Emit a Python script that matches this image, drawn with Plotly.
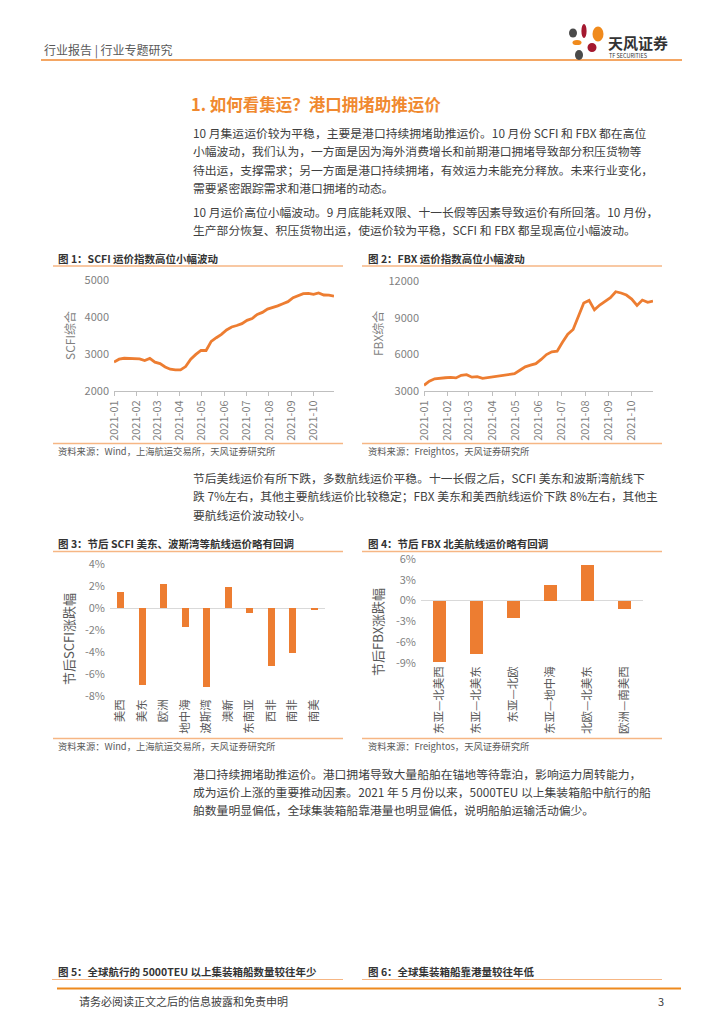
import plotly.graph_objects as go

W, H = 724, 1024
OFF = 8  # page body margin offset of the rendered figure
FONT = "Noto Sans CJK SC, Noto Sans, sans-serif"
ORANGE = "#ED7D31"
TITLE_ORANGE = "#F0892F"
LINE_LIGHT = "#F6B684"

# ---------------- data ----------------
weeks = ["2021-01-01", "2021-01-08", "2021-01-15", "2021-01-22", "2021-01-29",
         "2021-02-05", "2021-02-12", "2021-02-19", "2021-02-26",
         "2021-03-05", "2021-03-12", "2021-03-19", "2021-03-26",
         "2021-04-02", "2021-04-09", "2021-04-16", "2021-04-23", "2021-04-30",
         "2021-05-07", "2021-05-14", "2021-05-21", "2021-05-28",
         "2021-06-04", "2021-06-11", "2021-06-18", "2021-06-25",
         "2021-07-02", "2021-07-09", "2021-07-16", "2021-07-23", "2021-07-30",
         "2021-08-06", "2021-08-13", "2021-08-20", "2021-08-27",
         "2021-09-03", "2021-09-10", "2021-09-17", "2021-09-24",
         "2021-10-01", "2021-10-08", "2021-10-15", "2021-10-22", "2021-10-29"]

scfi = [2783, 2860, 2885, 2880, 2865, 2870, 2825, 2880, 2780, 2740, 2650, 2590,
        2570, 2570, 2660, 2860, 2990, 3100, 3095, 3340, 3440, 3530, 3650, 3730,
        3770, 3820, 3910, 3960, 4070, 4125, 4215, 4250, 4300, 4360, 4415, 4520,
        4575, 4630, 4640, 4610, 4650, 4595, 4590, 4565]

fbx = [3466, 3800, 4000, 4060, 4085, 4110, 4070, 4280, 4340, 4130, 4175, 4040,
       4100, 4170, 4220, 4270, 4390, 4420, 4700, 4980, 5110, 5240, 5580, 5980,
       6210, 6260, 6980, 7650, 8030, 9100, 10200, 10410, 9640, 10030, 10360,
       10630, 11120, 11020, 10850, 10520, 10000, 10440, 10250, 10350]

month_ticks = ["2021-01-01", "2021-02-01", "2021-03-01", "2021-04-01", "2021-05-01",
               "2021-06-01", "2021-07-01", "2021-08-01", "2021-09-01", "2021-10-01"]
month_labels = ["2021-01", "2021-02", "2021-03", "2021-04", "2021-05",
                "2021-06", "2021-07", "2021-08", "2021-09", "2021-10"]

scfi_yticks = [2000, 3000, 4000, 5000]
fbx_yticks = [3000, 6000, 9000, 12000]

scfi_routes = ["美西", "美东", "欧洲", "地中海", "波斯湾", "澳新", "东南亚", "西非", "南非", "南美"]
scfi_change = [1.5, -7.0, 2.2, -1.7, -7.2, 1.95, -0.45, -5.3, -4.05, -0.2]
scfi_ticks = [-8, -6, -4, -2, 0, 2, 4]
scfi_ticktext = ["-8%", "-6%", "-4%", "-2%", "0%", "2%", "4%"]

fbx_routes = ["东亚—北美西", "东亚—北美东", "东亚—北欧", "东亚—地中海", "北欧—北美东", "欧洲—南美西"]
fbx_change = [-8.9, -7.75, -2.55, 2.25, 5.2, -1.15]
fbx_ticks = [-9, -6, -3, 0, 3, 6]
fbx_ticktext = ["-9%", "-6%", "-3%", "0%", "3%", "6%"]

# ---------------- helpers ----------------
def px(x):
    return (x - OFF) / W

def py(y):
    return 1 - (y - OFF) / H

annotations = []
shapes = []

def text(x, y, s, size=12, color="#404040", anchor="left", angle=0, bold=False):
    if bold:
        s = "<b>" + s + "</b>"
    annotations.append(dict(x=px(x), y=py(y), xref="paper", yref="paper", text=s,
                            showarrow=False, xanchor=anchor, yanchor="middle",
                            textangle=angle,
                            font=dict(family=FONT, size=size, color=color)))

def hline(x0, x1, y, color, width=1):
    shapes.append(dict(type="line", xref="paper", yref="paper", x0=px(x0), x1=px(x1),
                       y0=py(y), y1=py(y), line=dict(color=color, width=width)))

def ellipse(cx, cy, rx, ry, color):
    shapes.append(dict(type="circle", xref="paper", yref="paper",
                       x0=px(cx - rx), x1=px(cx + rx), y0=py(cy + ry), y1=py(cy - ry),
                       fillcolor=color, line=dict(width=0)))

fig = go.Figure()

# ---------------- charts ----------------
fig.add_trace(go.Scatter(x=weeks, y=scfi, mode="lines", line=dict(color=ORANGE, width=2.8),
                         xaxis="x", yaxis="y", showlegend=False))
fig.add_trace(go.Scatter(x=weeks, y=fbx, mode="lines", line=dict(color=ORANGE, width=2.8),
                         xaxis="x2", yaxis="y2", showlegend=False))
fig.add_trace(go.Bar(x=scfi_routes, y=scfi_change, marker=dict(color=ORANGE, line=dict(width=0)),
                     width=0.33, xaxis="x3", yaxis="y3", showlegend=False))
fig.add_trace(go.Bar(x=fbx_routes, y=fbx_change, marker=dict(color=ORANGE, line=dict(width=0)),
                     width=0.33, xaxis="x4", yaxis="y4", showlegend=False))

tickfont = dict(family=FONT, size=11, color="#7F7F7F")
catfont = dict(family=FONT, size=11.5, color="#595959")

date_x = dict(type="date", tickvals=month_ticks, ticktext=month_labels, tickangle=-90,
              showline=True, linecolor="#BFBFBF", linewidth=1, ticks="outside", ticklen=4,
              tickcolor="#BFBFBF", showgrid=False, zeroline=False, tickfont=tickfont,
              fixedrange=True, automargin=False)

layout = dict(
    template="none",
    width=W, height=H, margin=dict(l=0, r=0, t=0, b=0, pad=0, autoexpand=False),
    paper_bgcolor="white", plot_bgcolor="white",
    bargap=0,
    xaxis=dict(date_x, domain=[px(114), px(334)], range=["2021-01-01", "2021-10-29"], anchor="y"),
    yaxis=dict(domain=[py(391), py(280)], range=[2000, 5000], tickvals=scfi_yticks,
               ticktext=[str(v) for v in scfi_yticks], showgrid=False,
               zeroline=False, showline=False, ticks="", tickfont=tickfont, anchor="x",
               ticklabelstandoff=4, automargin=False),
    xaxis2=dict(date_x, domain=[px(424), px(653)], range=["2021-01-01", "2021-10-29"], anchor="y2"),
    yaxis2=dict(domain=[py(391), py(281)], range=[3000, 12000], tickvals=fbx_yticks,
                ticktext=[str(v) for v in fbx_yticks], showgrid=False,
                zeroline=False, showline=False, ticks="", tickfont=tickfont, anchor="x2",
                ticklabelstandoff=4, automargin=False),
    xaxis3=dict(domain=[px(110), px(325)], type="category", tickangle=-90, showline=False,
                ticks="", showgrid=False, zeroline=False, tickfont=catfont, anchor="y3",
                automargin=False),
    yaxis3=dict(domain=[py(696), py(564)], range=[-8, 4], tickvals=scfi_ticks,
                ticktext=scfi_ticktext, showgrid=False, zeroline=True,
                zerolinecolor="#D9D9D9", zerolinewidth=1, showline=False, ticks="",
                tickfont=tickfont, anchor="x3", ticklabelstandoff=4, automargin=False),
    xaxis4=dict(domain=[px(421), px(643)], type="category", tickangle=-90, showline=False,
                ticks="", showgrid=False, zeroline=False, tickfont=catfont, anchor="y4",
                automargin=False),
    yaxis4=dict(domain=[py(663), py(559)], range=[-9, 6], tickvals=fbx_ticks,
                ticktext=fbx_ticktext, showgrid=False, zeroline=True,
                zerolinecolor="#D9D9D9", zerolinewidth=1, showline=False, ticks="",
                tickfont=tickfont, anchor="x4", ticklabelstandoff=4, automargin=False),
)

# y-axis titles
text(69, 336, "SCFI综合", size=12, color="#7F7F7F", anchor="center", angle=-90)
text(377, 334, "FBX综合", size=12, color="#7F7F7F", anchor="center", angle=-90)
text(68, 639, "节后SCFI涨跌幅", size=13, color="#595959", anchor="center", angle=-90)
text(377, 632, "节后FBX涨跌幅", size=13, color="#595959", anchor="center", angle=-90)

# ---------------- header ----------------
text(42, 50, "行业报告 | 行业专题研究", size=12, color="#595959")
hline(41, 682, 60, TITLE_ORANGE, 1.6)
ellipse(573, 33, 4, 4.5, "#4A4A4A")
ellipse(584, 31, 2.6, 7, "#A4182F")
ellipse(598, 34, 5.5, 7.5, "#F08A1C")
ellipse(577, 42.5, 4.5, 2.6, "#F08A1C")
ellipse(592, 47.5, 4.5, 4.5, "#A4182F")
ellipse(579, 55, 4, 5, "#4A4A4A")
text(606, 42, "天风证券", size=15, color="#333333", bold=True)
text(607, 55.5, "TF SECURITIES", size=5.5, color="#333333")

# ---------------- title & body ----------------
text(189, 104, "1. 如何看集运？港口拥堵助推运价", size=16.5, color=TITLE_ORANGE, bold=True)

body = [
    (132, "10 月集运运价较为平稳，主要是港口持续拥堵助推运价。10 月份 SCFI 和 FBX 都在高位"),
    (150.5, "小幅波动，我们认为，一方面是因为海外消费增长和前期港口拥堵导致部分积压货物等"),
    (169, "待出运，支撑需求；另一方面是港口持续拥堵，有效运力未能充分释放。未来行业变化，"),
    (187.5, "需要紧密跟踪需求和港口拥堵的动态。"),
    (211, "10 月运价高位小幅波动。9 月底能耗双限、十一长假等因素导致运价有所回落。10 月份，"),
    (229.5, "生产部分恢复、积压货物出运，使运价较为平稳，SCFI 和 FBX 都呈现高位小幅波动。"),
    (477, "节后美线运价有所下跌，多数航线运价平稳。十一长假之后，SCFI 美东和波斯湾航线下"),
    (495.5, "跌 7%左右，其他主要航线运价比较稳定；FBX 美东和美西航线运价下跌 8%左右，其他主"),
    (514, "要航线运价波动较小。"),
    (773, "港口持续拥堵助推运价。港口拥堵导致大量船舶在锚地等待靠泊，影响运力周转能力，"),
    (791, "成为运价上涨的重要推动因素。2021 年 5 月份以来，5000TEU 以上集装箱船中航行的船"),
    (809, "舶数量明显偏低，全球集装箱船靠港量也明显偏低，说明船舶运输活动偏少。"),
]
for y, s in body:
    text(191, y, s, size=11.8, color="#404040")

# ---------------- captions / sources ----------------
cap_color = "#333333"
src_color = "#595959"
text(56, 258, "图 1：SCFI 运价指数高位小幅波动", size=10.5, color=cap_color, bold=True)
hline(53, 343, 266, LINE_LIGHT, 1.4)
hline(53, 343, 443.5, LINE_LIGHT, 1.4)
text(56, 450.5, "资料来源：Wind，上海航运交易所，天风证券研究所", size=9.3, color=src_color)

text(366, 258, "图 2：FBX 运价指数高位小幅波动", size=10.5, color=cap_color, bold=True)
hline(362, 662, 266, LINE_LIGHT, 1.4)
hline(362, 662, 443.5, LINE_LIGHT, 1.4)
text(366, 450.5, "资料来源：Freightos，天风证券研究所", size=9.3, color=src_color)

text(56, 543, "图 3：节后 SCFI 美东、波斯湾等航线运价略有回调", size=10.5, color=cap_color, bold=True)
hline(53, 343, 551.5, LINE_LIGHT, 1.4)
hline(53, 343, 738.5, LINE_LIGHT, 1.4)
text(56, 745.5, "资料来源：Wind，上海航运交易所，天风证券研究所", size=9.3, color=src_color)

text(366, 543, "图 4：节后 FBX 北美航线运价略有回调", size=10.5, color=cap_color, bold=True)
hline(362, 662, 551.5, LINE_LIGHT, 1.4)
hline(362, 662, 738.5, LINE_LIGHT, 1.4)
text(366, 745.5, "资料来源：Freightos，天风证券研究所", size=9.3, color=src_color)

text(56, 971, "图 5：全球航行的 5000TEU 以上集装箱船数量较往年少", size=10.5, color=cap_color, bold=True)
hline(52, 343, 979.5, LINE_LIGHT, 1.2)
text(366, 971, "图 6：全球集装箱船靠港量较往年低", size=10.5, color=cap_color, bold=True)
hline(362, 662, 979.5, LINE_LIGHT, 1.2)

# ---------------- footer ----------------
hline(57, 681, 988.5, "#EE8A1E", 2)
text(77, 1001, "请务必阅读正文之后的信息披露和免责申明", size=11, color="#404040")
text(666, 1001, "3", size=11, color="#404040", anchor="right")

layout["annotations"] = annotations
layout["shapes"] = shapes
fig.update_layout(**layout)

fig.write_html("out.html")
